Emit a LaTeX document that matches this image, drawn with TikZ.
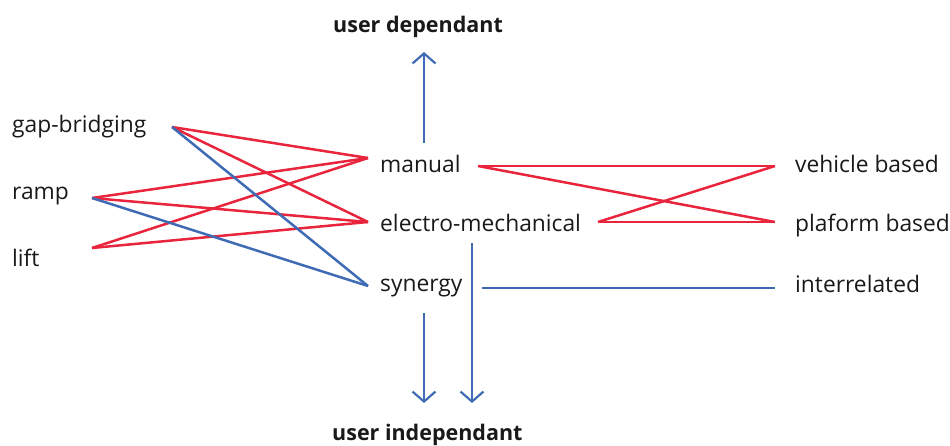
\documentclass[tikz,border=0pt]{standalone}
\usepackage{fontspec}
\setmainfont{Open Sans}
\usetikzlibrary{arrows.meta}
\definecolor{linkred}{HTML}{E8253C}
\definecolor{linkblue}{HTML}{3F6BB5}
\begin{document}
\begin{tikzpicture}[x=1pt,y=-1pt,
  lbl/.style={anchor=base west,inner sep=0pt,font=\fontsize{22.8}{26}\selectfont,text=black!90},
  head/.style={anchor=base west,inner sep=0pt,font=\fontsize{21.5}{25}\selectfont\bfseries,text=black!90},
  redlink/.style={draw=linkred,line width=2.5pt},
  bluelink/.style={draw=linkblue,line width=2.5pt},
  bluearrow/.style={draw=linkblue,line width=2.2pt,-{Straight Barb[length=10pt,width=23pt,line width=2.2pt]}}]
\useasboundingbox (0,0) rectangle (950,445);
% column labels (placed on their baselines)
\node[lbl] (gap) at (12,132) {gap-bridging};
\node[lbl] (ramp) at (12,199) {ramp};
\node[lbl] (lift) at (12,266) {lift};
\node[lbl] (manual) at (380,172) {manual};
\node[lbl] (electro) at (380,231) {electro-mechanical};
\node[lbl] (synergy) at (380,291) {synergy};
\node[lbl] (vehicle) at (795,172) {vehicle based};
\node[lbl] (plaform) at (795,231) {plaform based};
\node[lbl] (inter) at (795,292) {interrelated};
\node[head] (dep) at (333,32) {user dependant};
\node[head] (indep) at (332,440) {user independant};
% connector end points
\coordinate (gapE) at (172,127);
\coordinate (rampE) at (92,198);
\coordinate (liftE) at (92,248);
\coordinate (manW) at (368,158);
\coordinate (eleW) at (368,222);
\coordinate (synW) at (368,286);
\coordinate (manE) at (478,166);
\coordinate (eleE) at (598,222);
\coordinate (synE) at (482,288);
\coordinate (vehW) at (775,166);
\coordinate (plaW) at (775,222);
\coordinate (intW) at (775,288);
\coordinate (upS) at (424,143);
\coordinate (upT) at (424,52);
\coordinate (dnS) at (424,313);
\coordinate (dnT) at (424,403);
\coordinate (dn2S) at (472,243);
\coordinate (dn2T) at (472,403);
% links between columns
\draw[redlink] (gapE) -- (manW);
\draw[redlink] (gapE) -- (eleW);
\draw[redlink] (rampE) -- (manW);
\draw[redlink] (rampE) -- (eleW);
\draw[redlink] (liftE) -- (manW);
\draw[redlink] (liftE) -- (eleW);
\draw[bluelink] (gapE) -- (synW);
\draw[bluelink] (rampE) -- (synW);
\draw[redlink] (manE) -- (vehW);
\draw[redlink] (manE) -- (plaW);
\draw[redlink] (eleE) -- (vehW);
\draw[redlink] (eleE) -- (plaW);
\draw[bluelink] (synE) -- (intW);
% arrows towards the headings
\draw[bluearrow] (upS) -- (upT);
\draw[bluearrow] (dnS) -- (dnT);
\draw[bluearrow] (dn2S) -- (dn2T);
\end{tikzpicture}
\end{document}
